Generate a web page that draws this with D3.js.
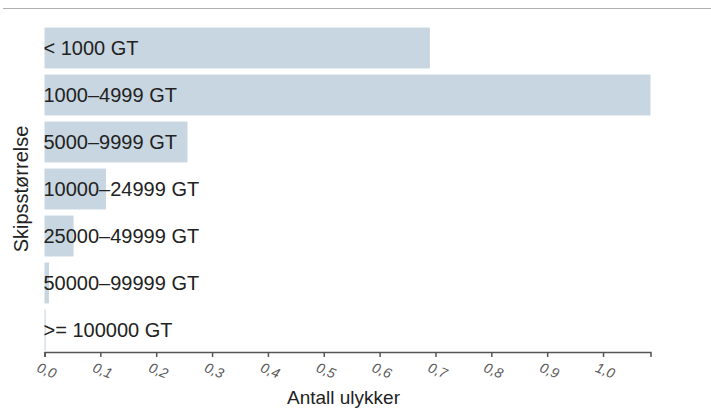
<!DOCTYPE html>
<html>
<head>
<meta charset="utf-8">
<script src="https://cdn.jsdelivr.net/npm/d3@7"></script>
<style>
  body { margin: 0; background: #fff; }
  svg { font-family: "Liberation Sans", Arial, sans-serif; }
</style>
</head>
<body>
<svg></svg>
<script>
const SVG_WIDTH = 711;
const SVG_HEIGHT = 410;
const DATA_START_X = 44.5;
const DATA_END_X = 650.5;
const DATA_TOP = 24.5;
const DATA_BOTTOM = 353.5;
const AXIS_Y = 352;

const categories = ["< 1000 GT", "1000\u20134999 GT", "5000\u20139999 GT", "10000\u201324999 GT",
  "25000\u201349999 GT", "50000\u201399999 GT", ">= 100000 GT"];
const values = [0.69, 1.085, 0.256, 0.11, 0.052, 0.008, 0.002];
const tickValues = [0, 0.1, 0.2, 0.3, 0.4, 0.5, 0.6, 0.7, 0.8, 0.9, 1.0];

const svg = d3.select("svg").attr("width", SVG_WIDTH).attr("height", SVG_HEIGHT);

// thin rule at the top
svg.append("line")
  .attr("x1", 3).attr("x2", SVG_WIDTH).attr("y1", 8.5).attr("y2", 8.5)
  .attr("stroke", "#b0b0b0").attr("stroke-width", 1);

const xScale = d3.scaleLinear().domain([0, d3.max(values)]).range([DATA_START_X, DATA_END_X]);
const yScale = d3.scaleBand().domain(categories).range([DATA_TOP, DATA_BOTTOM])
  .paddingInner(0.13).paddingOuter(0.065);

// bars
svg.selectAll("rect.bar")
  .data(categories)
  .enter()
  .append("rect")
  .attr("class", "bar")
  .attr("x", xScale(0))
  .attr("y", function(d) { return yScale(d); })
  .attr("width", function(d, i) { return Math.max(1, xScale(values[i]) - xScale(0)); })
  .attr("height", yScale.bandwidth())
  .attr("fill", "#c8d6e1");

// category labels inside bars
svg.selectAll("text.cat")
  .data(categories)
  .enter()
  .append("text")
  .attr("class", "cat")
  .attr("x", DATA_START_X - 1)
  .attr("y", function(d) { return yScale(d) + yScale.bandwidth() / 2; })
  .attr("dy", "0.36em")
  .attr("font-size", 20)
  .attr("fill", "#222")
  .text(function(d) { return d; });

// x axis
const xAxis = d3.axisBottom(xScale)
  .tickValues(tickValues)
  .tickSize(5)
  .tickSizeOuter(5)
  .tickFormat(function(d) { return d3.format(".1f")(d).replace(".", ","); });

const xAxisArea = svg.append("g")
  .attr("transform", "translate(0," + AXIS_Y + ")")
  .call(xAxis);
xAxisArea.select(".domain").attr("stroke", "#555").attr("stroke-width", 1.5);
xAxisArea.selectAll(".tick line").attr("stroke", "#555").attr("stroke-width", 1.5);
xAxisArea.selectAll(".tick text")
  .attr("fill", "#5a5a5a")
  .attr("font-size", 14)
  .attr("font-style", "italic")
  .attr("font-family", "\"Liberation Sans\", Arial, sans-serif")
  .attr("text-anchor", "middle")
  .attr("y", 0)
  .attr("dy", 0)
  .attr("transform", "translate(0,23) rotate(22)");

// axis titles
svg.append("text")
  .attr("x", (DATA_START_X + DATA_END_X) / 2 - 4)
  .attr("y", 404)
  .attr("text-anchor", "middle")
  .attr("font-size", 19)
  .attr("fill", "#222")
  .text("Antall ulykker");

svg.append("text")
  .attr("transform", "translate(28," + ((DATA_TOP + DATA_BOTTOM) / 2) + ") rotate(-90)")
  .attr("text-anchor", "middle")
  .attr("font-size", 20)
  .attr("fill", "#222")
  .text("Skipsstørrelse");
</script>
</body>
</html>
